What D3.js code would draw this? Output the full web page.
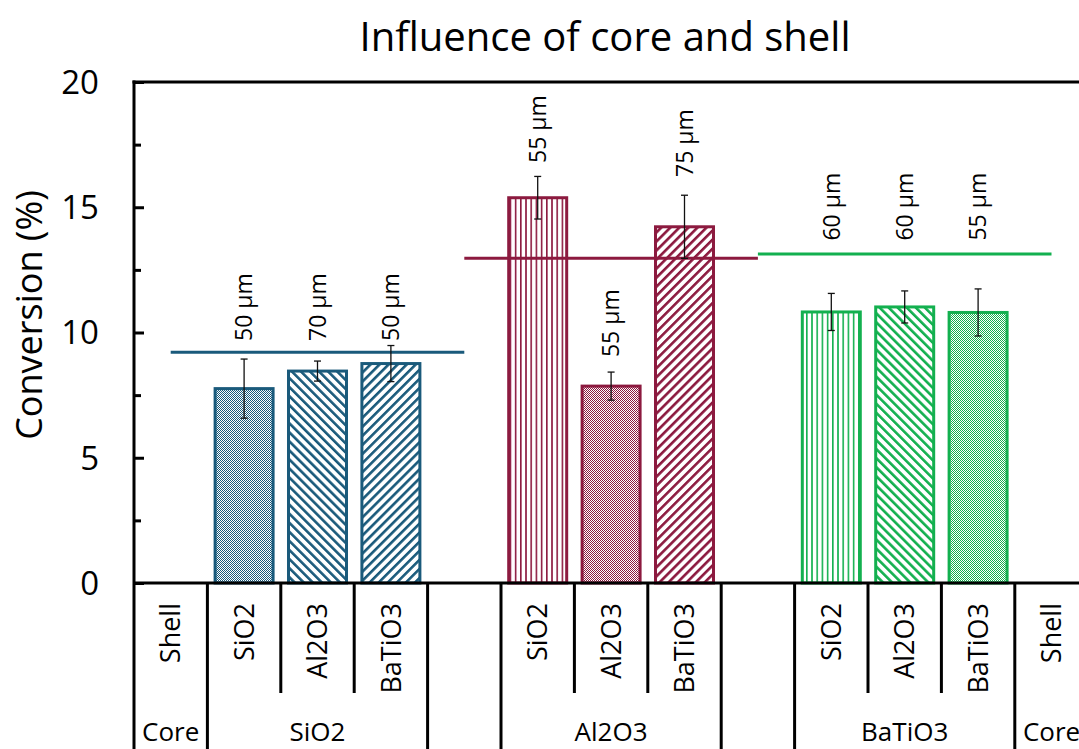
<!DOCTYPE html>
<html>
<head>
<meta charset="utf-8">
<script src="https://cdn.jsdelivr.net/npm/d3@7/dist/d3.min.js"></script>
<style>
  html, body { margin: 0; padding: 0; background: #fff; }
  svg { display: block; font-family: "Open Sans", "Noto Sans", sans-serif; }
</style>
</head>
<body>
<svg id="chart" width="1079" height="749"></svg>
<script>
// ---------------- data ----------------
const cores = ["SiO2", "Al2O3", "BaTiO3"];
const shells = ["SiO2", "Al2O3", "BaTiO3"];
const conversionSiO2Core = [7.76, 8.46, 8.76];
const conversionAl2O3Core = [15.38, 7.86, 14.22];
const conversionBaTiO3Core = [10.82, 11.02, 10.80];
const errorSiO2Core = [1.18, 0.40, 0.72];
const errorAl2O3Core = [0.85, 0.56, 1.26];
const errorBaTiO3Core = [0.74, 0.64, 0.94];
const referenceLevel = [9.21, 12.96, 13.13];
const sizeSiO2Core = ["50 µm", "70 µm", "50 µm"];
const sizeAl2O3Core = ["55 µm", "55 µm", "75 µm"];
const sizeBaTiO3Core = ["60 µm", "60 µm", "55 µm"];
const sizeLabelLevelSiO2Core = [9.66, 9.66, 9.66];
const sizeLabelLevelAl2O3Core = [16.77, 9.02, 16.21];
const sizeLabelLevelBaTiO3Core = [13.67, 13.67, 13.67];
const yTicks = [0, 5, 10, 15, 20];
const yMinorTicks = [2.5, 7.5, 12.5, 17.5];
const chartTitle = "Influence of core and shell";
const yTitle = "Conversion (%)";

// ---------------- styles ----------------
const groupColors = ["#1a5a7b", "#8c1a3f", "#13b04f"];
const groupPatterns = [["dots", "down", "up"], ["vert", "dots", "up"], ["vert", "down", "dots"]];

const values = [conversionSiO2Core, conversionAl2O3Core, conversionBaTiO3Core];
const errors = [errorSiO2Core, errorAl2O3Core, errorBaTiO3Core];
const sizes = [sizeSiO2Core, sizeAl2O3Core, sizeBaTiO3Core];
const labelLevels = [sizeLabelLevelSiO2Core, sizeLabelLevelAl2O3Core, sizeLabelLevelBaTiO3Core];

// slot layout: label | 3 bars | gap | 3 bars | gap | 3 bars | label
const slots = [];
slots.push({ kind: "label" });
cores.forEach((c, gi) => {
  if (gi > 0) slots.push({ kind: "gap" });
  shells.forEach((s, si) => slots.push({ kind: "bar", g: gi, s: si, core: c, shell: s }));
});
slots.push({ kind: "label" });
slots.forEach((d, i) => d.id = "slot" + i);

const bars = slots.filter(d => d.kind === "bar").map(d => ({
  ...d,
  value: values[d.g][d.s],
  err: errors[d.g][d.s],
  size: sizes[d.g][d.s],
  level: labelLevels[d.g][d.s],
  color: groupColors[d.g],
  pattern: groupPatterns[d.g][d.s]
}));

const svg = d3.select("#chart");
const W = 1079, H = 749;
const plotLeft = 134, plotTop = 82, axisY = 583;
const slotW = 73.4;

const x = d3.scaleBand().domain(slots.map(d => d.id)).range([plotLeft, plotLeft + slotW * slots.length]).paddingInner(0).paddingOuter(0);
const y = d3.scaleLinear().domain([0, 20]).range([axisY, plotTop]);
const barW = x.bandwidth() * 0.79;

// ---------------- patterns ----------------
const defs = svg.append("defs");
bars.forEach((b, i) => {
  const pid = "pat" + i;
  b.pid = pid;
  if (b.pattern === "dots") {
    const p = defs.append("pattern").attr("id", pid).attr("patternUnits", "userSpaceOnUse")
      .attr("width", 2).attr("height", 2);
    p.append("rect").attr("width", 2).attr("height", 2).attr("fill", "#fff");
    p.append("rect").attr("x", 0).attr("y", 0).attr("width", 1).attr("height", 1).attr("fill", b.color);
    p.append("rect").attr("x", 1).attr("y", 1).attr("width", 1).attr("height", 1).attr("fill", b.color);
  } else if (b.pattern === "vert") {
    const p = defs.append("pattern").attr("id", pid).attr("patternUnits", "userSpaceOnUse")
      .attr("width", 5.2).attr("height", 10);
    p.append("rect").attr("width", 5.2).attr("height", 10).attr("fill", "#fff");
    p.append("rect").attr("x", 0).attr("width", 1.6).attr("height", 10).attr("fill", b.color);
  } else {
    const p = defs.append("pattern").attr("id", pid).attr("patternUnits", "userSpaceOnUse")
      .attr("width", 6.4).attr("height", 10)
      .attr("patternTransform", b.pattern === "up" ? "rotate(45)" : "rotate(-45)");
    p.append("rect").attr("width", 6.4).attr("height", 10).attr("fill", "#fff");
    p.append("rect").attr("x", 0).attr("width", 2.6).attr("height", 10).attr("fill", b.color);
  }
});

// ---------------- title ----------------
svg.append("text").attr("x", 605).attr("y", 51).attr("text-anchor", "middle")
  .attr("font-size", 40).attr("fill", "#000").text(chartTitle);

// ---------------- frame / top border ----------------
svg.append("line").attr("x1", plotLeft - 1.5).attr("x2", W).attr("y1", plotTop).attr("y2", plotTop)
  .attr("stroke", "#000").attr("stroke-width", 3);

// ---------------- bars ----------------
const gBars = svg.append("g");
gBars.selectAll("rect").data(bars).join("rect")
  .attr("x", d => x(d.id) + (x.bandwidth() - barW) / 2)
  .attr("y", d => y(d.value))
  .attr("width", barW)
  .attr("height", d => y(0) - y(d.value))
  .attr("fill", d => `url(#${d.pid})`)
  .attr("stroke", d => d.color)
  .attr("stroke-width", 3);

// ---------------- reference lines ----------------
const gapIds = slots.filter(d => d.kind !== "bar").map(d => d.id);
referenceLevel.forEach((v, gi) => {
  const x1 = x(gapIds[gi]) + x.bandwidth() / 2;
  const x2 = x(gapIds[gi + 1]) + x.bandwidth() / 2;
  svg.append("line").attr("x1", x1).attr("x2", x2).attr("y1", y(v)).attr("y2", y(v))
    .attr("stroke", groupColors[gi]).attr("stroke-width", 3);
});

// ---------------- error bars ----------------
const gErr = svg.append("g").attr("stroke", "#111").attr("stroke-width", 1.3);
bars.forEach(b => {
  const cx = x(b.id) + x.bandwidth() / 2;
  gErr.append("line").attr("x1", cx).attr("x2", cx).attr("y1", y(b.value - b.err)).attr("y2", y(b.value + b.err));
  [b.value - b.err, b.value + b.err].forEach(v =>
    gErr.append("line").attr("x1", cx - 3.5).attr("x2", cx + 3.5).attr("y1", y(v)).attr("y2", y(v)));
});

// ---------------- size labels ----------------
bars.forEach(b => {
  const cx = x(b.id) + x.bandwidth() / 2;
  svg.append("text")
    .attr("transform", `translate(${cx},${y(b.level)}) rotate(-90)`)
    .attr("dy", "0.36em")
    .attr("font-size", 23).attr("fill", "#000")
    .text(b.size);
});

// ---------------- y axis ----------------
const yAxis = d3.axisRight(y).tickValues(yTicks).tickSize(10).tickFormat("");
const gy = svg.append("g").attr("transform", `translate(${plotLeft},0)`).call(yAxis);
gy.select(".domain").remove();
gy.selectAll(".tick line").attr("stroke", "#000").attr("stroke-width", 3);
const gyMinor = svg.append("g").attr("transform", `translate(${plotLeft},0)`)
  .call(d3.axisRight(y).tickValues(yMinorTicks).tickSize(7).tickFormat(""));
gyMinor.select(".domain").remove();
gyMinor.selectAll(".tick line").attr("stroke", "#000").attr("stroke-width", 3);

svg.append("g").selectAll("text").data(yTicks).join("text")
  .attr("x", 99).attr("y", d => y(d)).attr("dy", "0.36em")
  .attr("text-anchor", "end").attr("font-size", 33).attr("fill", "#000")
  .text(d => d3.format("d")(d));

svg.append("line").attr("x1", plotLeft).attr("x2", plotLeft).attr("y1", plotTop - 1.5).attr("y2", H)
  .attr("stroke", "#000").attr("stroke-width", 3);

svg.append("text").attr("transform", `translate(42,315) rotate(-90)`)
  .attr("text-anchor", "middle").attr("font-size", 36).attr("fill", "#000").text(yTitle);

// ---------------- category table ----------------
svg.append("line").attr("x1", plotLeft).attr("x2", W).attr("y1", axisY).attr("y2", axisY)
  .attr("stroke", "#000").attr("stroke-width", 3);

const shortEnd = 693;
slots.forEach((d, i) => {
  if (i === 0) return;
  const prev = slots[i - 1];
  const isShort = d.kind === "bar" && prev.kind === "bar";
  svg.append("line").attr("x1", x(d.id)).attr("x2", x(d.id))
    .attr("y1", axisY).attr("y2", isShort ? shortEnd : H)
    .attr("stroke", "#000").attr("stroke-width", 3);
});

// shell row
slots.forEach(d => {
  if (d.kind === "gap") return;
  const cx = x(d.id) + x.bandwidth() / 2;
  svg.append("text")
    .attr("transform", `translate(${cx},603) rotate(-90)`)
    .attr("dy", "0.36em").attr("text-anchor", "end")
    .attr("font-size", 27).attr("fill", "#000")
    .text(d.kind === "label" ? "Shell" : d.shell);
});

// core row
const coreLabels = [];
coreLabels.push({ text: "Core", a: slots[0].id, b: slots[0].id });
cores.forEach((c, gi) => {
  const ids = slots.filter(s => s.kind === "bar" && s.g === gi).map(s => s.id);
  coreLabels.push({ text: c, a: ids[0], b: ids[ids.length - 1] });
});
coreLabels.push({ text: "Core", a: slots[slots.length - 1].id, b: slots[slots.length - 1].id });
svg.append("g").selectAll("text").data(coreLabels).join("text")
  .attr("x", d => (x(d.a) + x(d.b) + x.bandwidth()) / 2)
  .attr("y", 741).attr("text-anchor", "middle")
  .attr("font-size", 26).attr("fill", "#000")
  .text(d => d.text);
</script>
</body>
</html>
